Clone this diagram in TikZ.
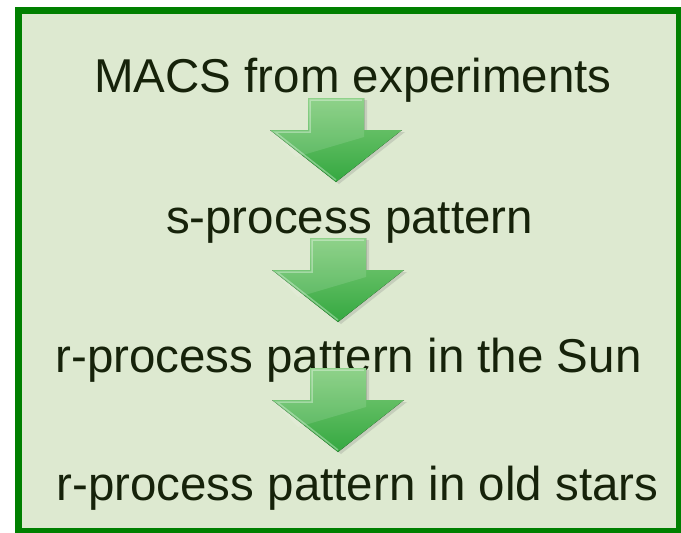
\documentclass[tikz,border=0pt]{standalone}
\usepackage{fontspec}
\setmainfont{Liberation Sans}
\usetikzlibrary{shadows}

\definecolor{boxgreen}{RGB}{0,128,0}
\definecolor{boxfill}{RGB}{221,233,208}
\definecolor{inkdark}{RGB}{22,34,10}
\definecolor{arrowtop}{RGB}{128,204,122}
\definecolor{arrowbot}{RGB}{52,168,64}

\tikzset{
	steptext/.style = {anchor=base, inner sep=0pt, text=inkdark,
		font=\fontsize{47.5}{57}\selectfont},
	greenarrow/.pic = {
		\fill[top color=arrowtop, bottom color=arrowbot,
			drop shadow={shadow xshift=3pt, shadow yshift=-2pt, opacity=0.25}]
			(-28,-84) -- (28,-84) -- (28,-52) -- (66,-52) -- (0,0)
			-- (-66,-52) -- (-28,-52) -- cycle;
		\draw[white, opacity=0.35, line width=1.5pt]
			(26,-82) -- (-26,-82) -- (-26,-50) -- (-61,-50) -- (0,-2);
		\fill[white, opacity=0.12]
			(-28,-84) -- (28,-84) -- (28,-45) -- (-40,-25) -- (-66,-52) -- (-28,-52) -- cycle;
	}
}

\begin{document}
\begin{tikzpicture}[x=1pt, y=-1pt]
		\useasboundingbox (0,0) rectangle (681,533);
		\begin{scope}
			\clip (0,0) rectangle (681,533);
			\filldraw[fill=boxfill, draw=boxgreen, line width=7pt] (18.5,10) rectangle (679.5,531.5);
		\end{scope}

		% the four steps
		\node[steptext] (macs) at (353,92.3) {MACS from experiments};
		\node[steptext] (spat) at (349.5,233) {s-process pattern};
		\node[steptext] (rsun) at (348.5,372) {r-process pattern in the Sun};
		\node[steptext] (rold) at (357.5,500.7) {r-process pattern in old stars};

		% arrows between them
		\pic at (336,182) {greenarrow};
		\pic at (338,322) {greenarrow};
		\pic at (338,452) {greenarrow};
	\end{tikzpicture}
\end{document}
